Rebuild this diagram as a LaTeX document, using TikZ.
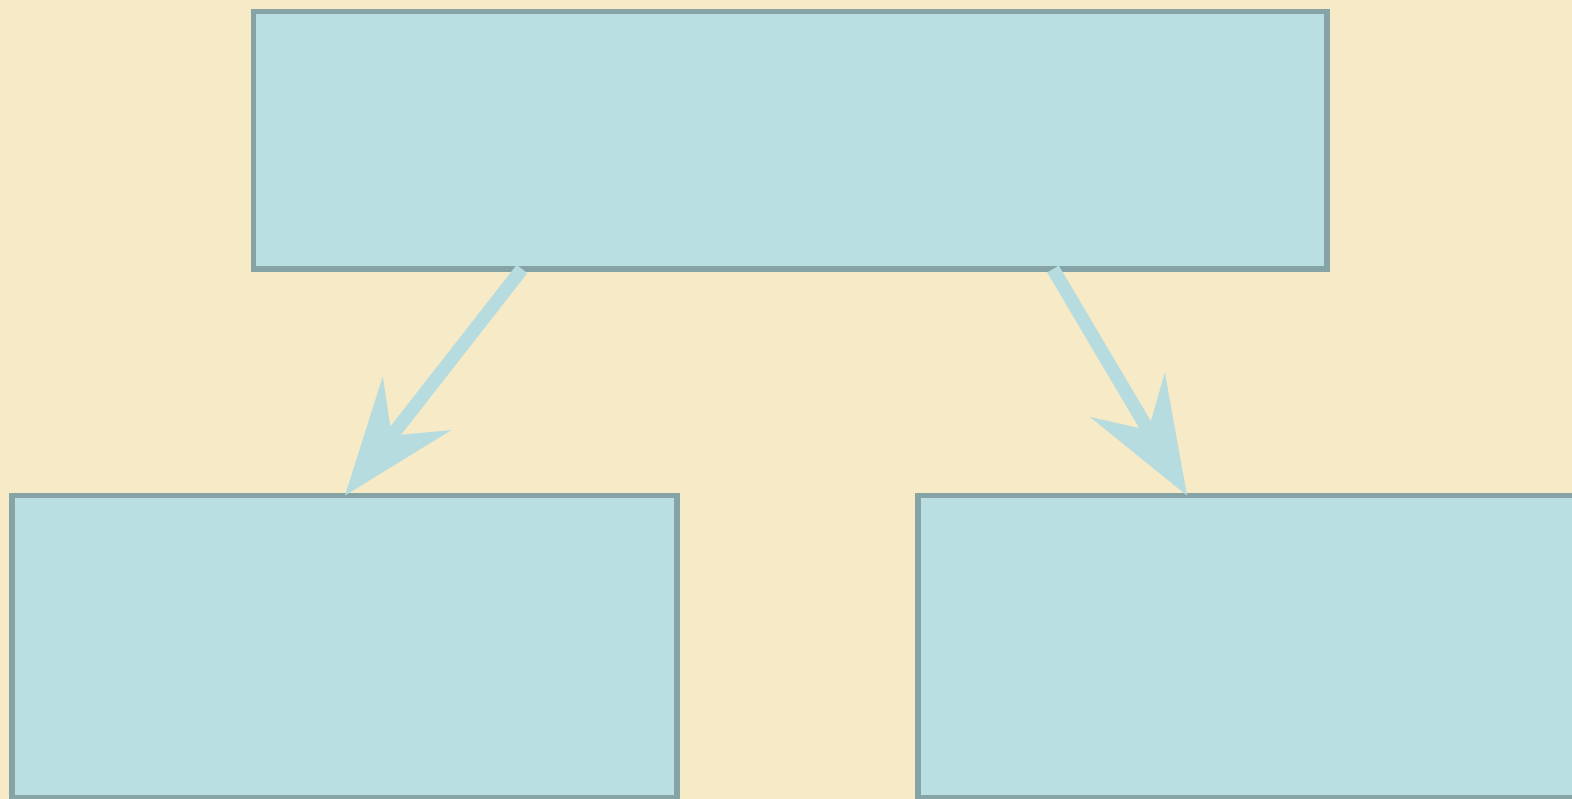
\documentclass[tikz,border=0pt]{standalone}
\usetikzlibrary{arrows.meta,calc}
\definecolor{bg}{HTML}{F7EAC7}
\definecolor{boxfill}{HTML}{BADFE2}
\definecolor{boxline}{HTML}{86A4A6}
\definecolor{arrowcol}{HTML}{B6DCE0}
\begin{document}
\begin{tikzpicture}[x=1pt,y=-1pt,
  box/.style={draw=boxline,fill=boxfill,line width=5.5pt,rectangle,inner sep=0pt,outer sep=0pt},
  conn/.style={draw=arrowcol,line width=13.5pt,
    -{Stealth[length=117pt,width=87pt,inset=41pt,line width=0pt,fill=arrowcol]}}]
\fill[bg] (0,0) rectangle (1572,799);
\useasboundingbox (0,0) rectangle (1572,799);
\node[box,minimum width=1073.5pt,minimum height=257.7pt] (top) at (790.25,140.15) {};
\node[box,minimum width=665pt,minimum height=302.5pt] (bl) at (344.5,646.75) {};
\node[box,minimum width=662pt,minimum height=302.5pt] (br) at (1249,646.75) {};
\draw[conn] ($(top.south west)+(268.5,0)$) -- ($(bl.north west)+(333,0)$);
\draw[conn] ($(top.south west)+(799.5,0)$) -- ($(br.north west)+(269,0)$);
\end{tikzpicture}
\end{document}
